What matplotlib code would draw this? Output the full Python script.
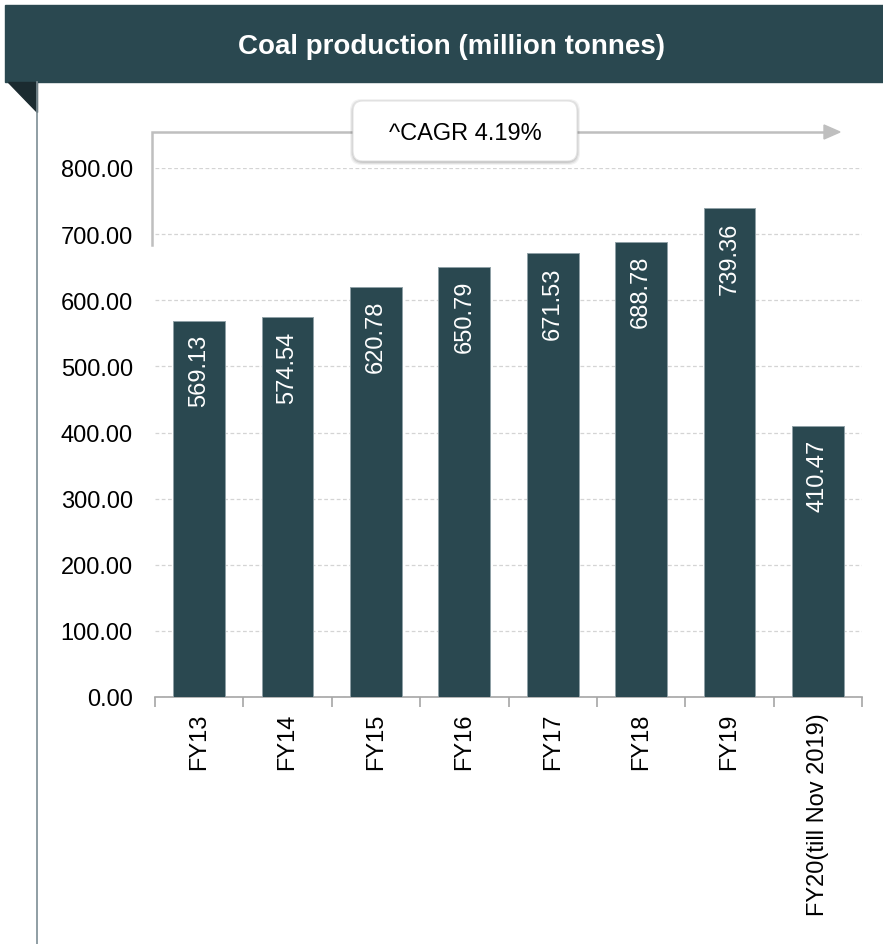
import matplotlib.pyplot as plt
from matplotlib.patches import FancyBboxPatch, Polygon, Rectangle
from matplotlib.lines import Line2D

plt.rcParams['font.family'] = ['Liberation Sans', 'DejaVu Sans']

years = ['FY13', 'FY14', 'FY15', 'FY16', 'FY17', 'FY18', 'FY19',
         'FY20(till Nov 2019)']
production = [569.13, 574.54, 620.78, 650.79, 671.53, 688.78, 739.36, 410.47]
y_ticks = [0, 100, 200, 300, 400, 500, 600, 700, 800]
cagr_text = '^CAGR 4.19%'
title = 'Coal production (million tonnes)'

W, H = 883, 945
dark = '#2A4850'


def fx(px):
    return px / W


def fy(py):
    return 1 - py / H


fig = plt.figure(figsize=(W / 100, H / 100), dpi=100)

# header band and folded corner
fig.patches.append(Rectangle((fx(5), fy(83)), fx(878), 77 / H,
                             transform=fig.transFigure, color=dark, zorder=0))
fig.patches.append(Polygon([(fx(8), fy(83)), (fx(37), fy(83)), (fx(37), fy(113))],
                           closed=True, transform=fig.transFigure,
                           color='#1B2B30', zorder=1))
fig.lines.append(Line2D([fx(37), fx(37)], [fy(83), fy(945)],
                        transform=fig.transFigure, color='#7D8E95', lw=1.2))
fig.text(fx(451), fy(47), title, color='white', fontsize=20,
         fontweight='bold', ha='center', va='center')

ax = fig.add_axes([fx(155), fy(698), fx(862) - fx(155), (698 - 169) / H])
x = range(len(years))
bars = ax.bar(x, production, width=0.585, color=dark,
              edgecolor='#8FA0A6', linewidth=0.7, zorder=3)
for xi, v in zip(x, production):
    ax.text(xi, v - 20, f'{v:.2f}', rotation=90, ha='center', va='top',
            color='white', fontsize=17, zorder=4)

ax.set_xlim(-0.5, len(years) - 0.5)
ax.set_ylim(0, 800)
ax.set_yticks(y_ticks)
ax.set_yticklabels([f'{t:.2f}' for t in y_ticks], fontsize=17)
ax.set_xticks(list(x))
ax.set_xticklabels(years, rotation=90, fontsize=17)
ax.set_xticks([i - 0.5 for i in range(len(years) + 1)], minor=True)
ax.tick_params(axis='x', which='major', length=0, pad=11)
ax.tick_params(axis='x', which='minor', length=7, color='#A6A6A6', width=1.2)
ax.tick_params(axis='y', length=0, pad=16)
for s in ['left', 'right', 'top']:
    ax.spines[s].set_visible(False)
ax.spines['bottom'].set_color('#A6A6A6')
ax.spines['bottom'].set_linewidth(1.2)
ax.yaxis.grid(True, color='#D4D4D4', linestyle=(0, (3, 2)), linewidth=0.9)
ax.set_axisbelow(True)

# growth arrow with callout box
arrow_col = '#BFBFBF'
fig.lines.append(Line2D([fx(152), fx(152), fx(826)], [fy(246), fy(133), fy(133)],
                        transform=fig.transFigure, color=arrow_col, lw=1.8,
                        solid_joinstyle='miter'))
fig.patches.append(Polygon([(fx(824), fy(126)), (fx(840), fy(133)), (fx(824), fy(140))],
                           closed=True, transform=fig.transFigure,
                           color=arrow_col))
for off, a in [(4, 0.05), (3, 0.07), (2, 0.09), (1, 0.11)]:
    fig.patches.append(FancyBboxPatch(
        (fx(353 - off + 1), fy(162 + off)), fx(224 + 2 * off - 2), (60 + 2 * off - 2) / H,
        boxstyle=f'round,pad=0,rounding_size={12 / H}',
        transform=fig.transFigure, facecolor='black', edgecolor='none',
        alpha=a, zorder=5))
fig.patches.append(FancyBboxPatch(
    (fx(353), fy(162)), fx(224), 60 / H,
    boxstyle=f'round,pad=0,rounding_size={10 / H}',
    transform=fig.transFigure, facecolor='white', edgecolor='#E3E3E3',
    lw=0.8, zorder=6))
fig.text(fx(465), fy(134), cagr_text, fontsize=17, ha='center', va='center',
         zorder=7)

fig.savefig('out.png', dpi=100)
